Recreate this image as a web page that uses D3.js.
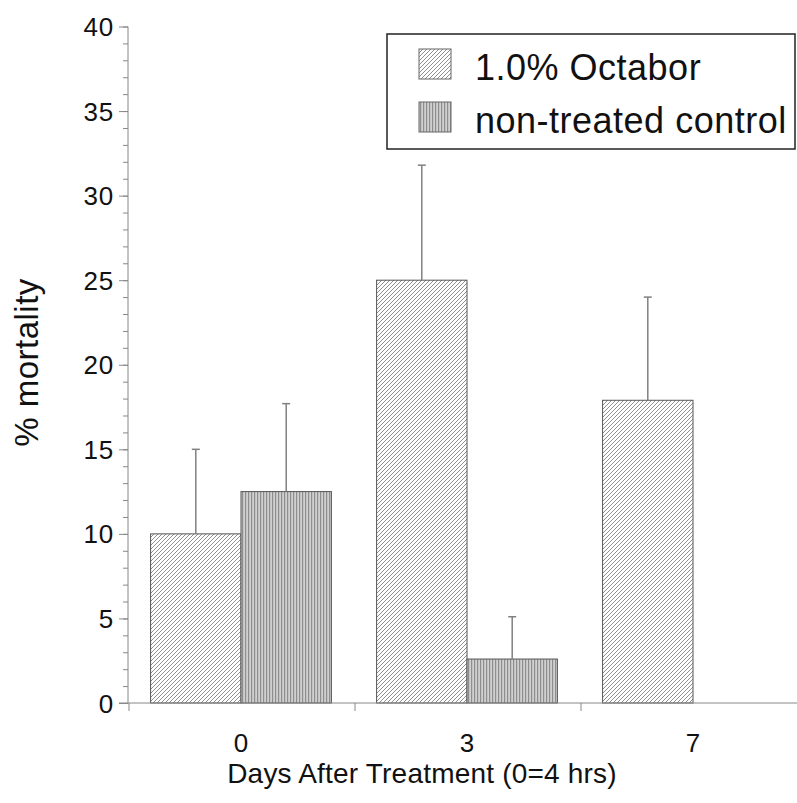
<!DOCTYPE html>
<html>
<head>
<meta charset="utf-8">
<script src="https://cdn.jsdelivr.net/npm/d3@7"></script>
<style>
  html, body { margin: 0; padding: 0; background: #fff; }
  svg { display: block; }
  text { font-family: "Liberation Sans", Arial, Helvetica, sans-serif; fill: #111; }
</style>
</head>
<body>
<svg id="chart" width="797" height="803"></svg>
<script>
// ---- data ----
const days = ["0", "3", "7"];
const seriesNames = ["1.0% Octabor", "non-treated control"];
const octabor = [10.0, 25.0, 17.9];
const octaborErr = [5.0, 6.8, 6.1];
const control = [12.5, 2.6, 0];
const controlErr = [5.2, 2.5, 0];
const yTicks = [0, 5, 10, 15, 20, 25, 30, 35, 40];
const yMinorTicks = d3.range(0, 41, 1);
const xTitle = "Days After Treatment (0=4 hrs)";
const yTitle = "% mortality";

(function () {
const rows = days.map((d, i) => ({
  day: d,
  values: [
    { key: seriesNames[0], v: octabor[i], e: octaborErr[i] },
    { key: seriesNames[1], v: control[i], e: controlErr[i] }
  ]
}));

const svg = d3.select("#chart");
const W = 797;
const mLeft = 128, mBottom = 703, mTop = 26.5;

// patterns
const defs = svg.append("defs");
const p1 = defs.append("pattern").attr("id", "diag").attr("patternUnits", "userSpaceOnUse")
  .attr("width", 4).attr("height", 4);
p1.append("rect").attr("width", 4).attr("height", 4).attr("fill", "#fff");
p1.append("path").attr("d", "M-1,1 l2,-2 M0,4 l4,-4 M3,5 l2,-2")
  .attr("stroke", "#8e8e8e").attr("stroke-width", 1);
const p2 = defs.append("pattern").attr("id", "vert").attr("patternUnits", "userSpaceOnUse")
  .attr("width", 3).attr("height", 3);
p2.append("rect").attr("width", 3).attr("height", 3).attr("fill", "#d0d0d0");
p2.append("rect").attr("x", 0).attr("width", 1.2).attr("height", 3).attr("fill", "#8e8e8e");
const fills = { [seriesNames[0]]: "url(#diag)", [seriesNames[1]]: "url(#vert)" };

// scales
const x = d3.scaleBand().domain(days).range([mLeft, mLeft + 3 * 226]).padding(0);
const xs = d3.scaleBand().domain(seriesNames).range([0, x.bandwidth()])
  .paddingOuter(0.25).paddingInner(0);
const y = d3.scaleLinear().domain([0, 40]).range([mBottom, mTop]);

// bars
const g = svg.append("g");
const groups = g.selectAll("g.grp").data(rows).join("g")
  .attr("transform", d => `translate(${x(d.day)},0)`);
groups.selectAll("rect").data(d => d.values.filter(v => v.v > 0)).join("rect")
  .attr("x", d => xs(d.key))
  .attr("y", d => y(d.v))
  .attr("width", xs.bandwidth())
  .attr("height", d => y(0) - y(d.v))
  .attr("fill", d => fills[d.key])
  .attr("stroke", "#555")
  .attr("stroke-width", 1);

// error bars (upper only)
const eb = groups.selectAll("g.eb").data(d => d.values.filter(v => v.e > 0)).join("g");
eb.append("line")
  .attr("x1", d => xs(d.key) + xs.bandwidth() / 2)
  .attr("x2", d => xs(d.key) + xs.bandwidth() / 2)
  .attr("y1", d => y(d.v))
  .attr("y2", d => y(d.v + d.e))
  .attr("stroke", "#808080").attr("stroke-width", 1.5);
eb.append("line")
  .attr("x1", d => xs(d.key) + xs.bandwidth() / 2 - 4)
  .attr("x2", d => xs(d.key) + xs.bandwidth() / 2 + 4)
  .attr("y1", d => y(d.v + d.e))
  .attr("y2", d => y(d.v + d.e))
  .attr("stroke", "#808080").attr("stroke-width", 1.5);

// y axis
const yMinor = svg.append("g").attr("transform", `translate(${mLeft},0)`)
  .call(d3.axisLeft(y).tickValues(yMinorTicks).tickSize(5).tickFormat(""));
yMinor.select(".domain").remove();
yMinor.selectAll("line").attr("stroke", "#888");
const yAx = svg.append("g").attr("transform", `translate(${mLeft},0)`)
  .call(d3.axisLeft(y).tickValues(yTicks).tickSize(9).tickPadding(5));
yAx.select(".domain").attr("stroke", "#888").attr("d", `M0,${mTop}V${mBottom}`);
yAx.selectAll("line").attr("stroke", "#888");
yAx.selectAll("text").attr("font-size", 26).attr("fill", "#111")
  .style("font-family", "'Liberation Sans', Arial, sans-serif")
  .style("letter-spacing", "0.8px").attr("dy", "0.35em");

// x axis
svg.append("line").attr("x1", mLeft - 9).attr("x2", W).attr("y1", mBottom).attr("y2", mBottom)
  .attr("stroke", "#888").attr("stroke-width", 1);
const bounds = days.map(d => x(d));
svg.append("g").selectAll("line").data(bounds).join("line")
  .attr("x1", d => d + 1).attr("x2", d => d + 1)
  .attr("y1", mBottom).attr("y2", mBottom + 8)
  .attr("stroke", "#888");
const xAx = svg.append("g").attr("transform", `translate(0,${mBottom})`)
  .call(d3.axisBottom(x).tickSize(0).tickPadding(31));
xAx.select(".domain").remove();
xAx.selectAll("text").attr("font-size", 26).attr("fill", "#111")
  .style("font-family", "'Liberation Sans', Arial, sans-serif");

// titles
svg.append("text").attr("x", (226 + 618) / 2).attr("y", 783)
  .attr("text-anchor", "middle").attr("font-size", 28)
  .style("letter-spacing", "0.2px").text(xTitle);
svg.append("text").attr("transform", `translate(38,${(278 + 447) / 2}) rotate(-90)`)
  .attr("text-anchor", "middle").attr("font-size", 33)
  .style("letter-spacing", "0.5px").text(yTitle);

// legend
const lg = svg.append("g");
lg.append("rect").attr("x", 387).attr("y", 34).attr("width", 408).attr("height", 115)
  .attr("fill", "#fff").attr("stroke", "#222").attr("stroke-width", 1.5);
const li = lg.selectAll("g.li").data(seriesNames).join("g")
  .attr("transform", (d, i) => `translate(0,${i * 53})`);
li.append("rect").attr("x", 419).attr("y", 49).attr("width", 32).attr("height", 30)
  .attr("fill", d => fills[d]).attr("stroke", "#666").attr("stroke-width", 1);
li.append("text").attr("x", 475).attr("y", 80).attr("font-size", 36)
  .style("letter-spacing", "0.5px").text(d => d);
})();
</script>
</body>
</html>
